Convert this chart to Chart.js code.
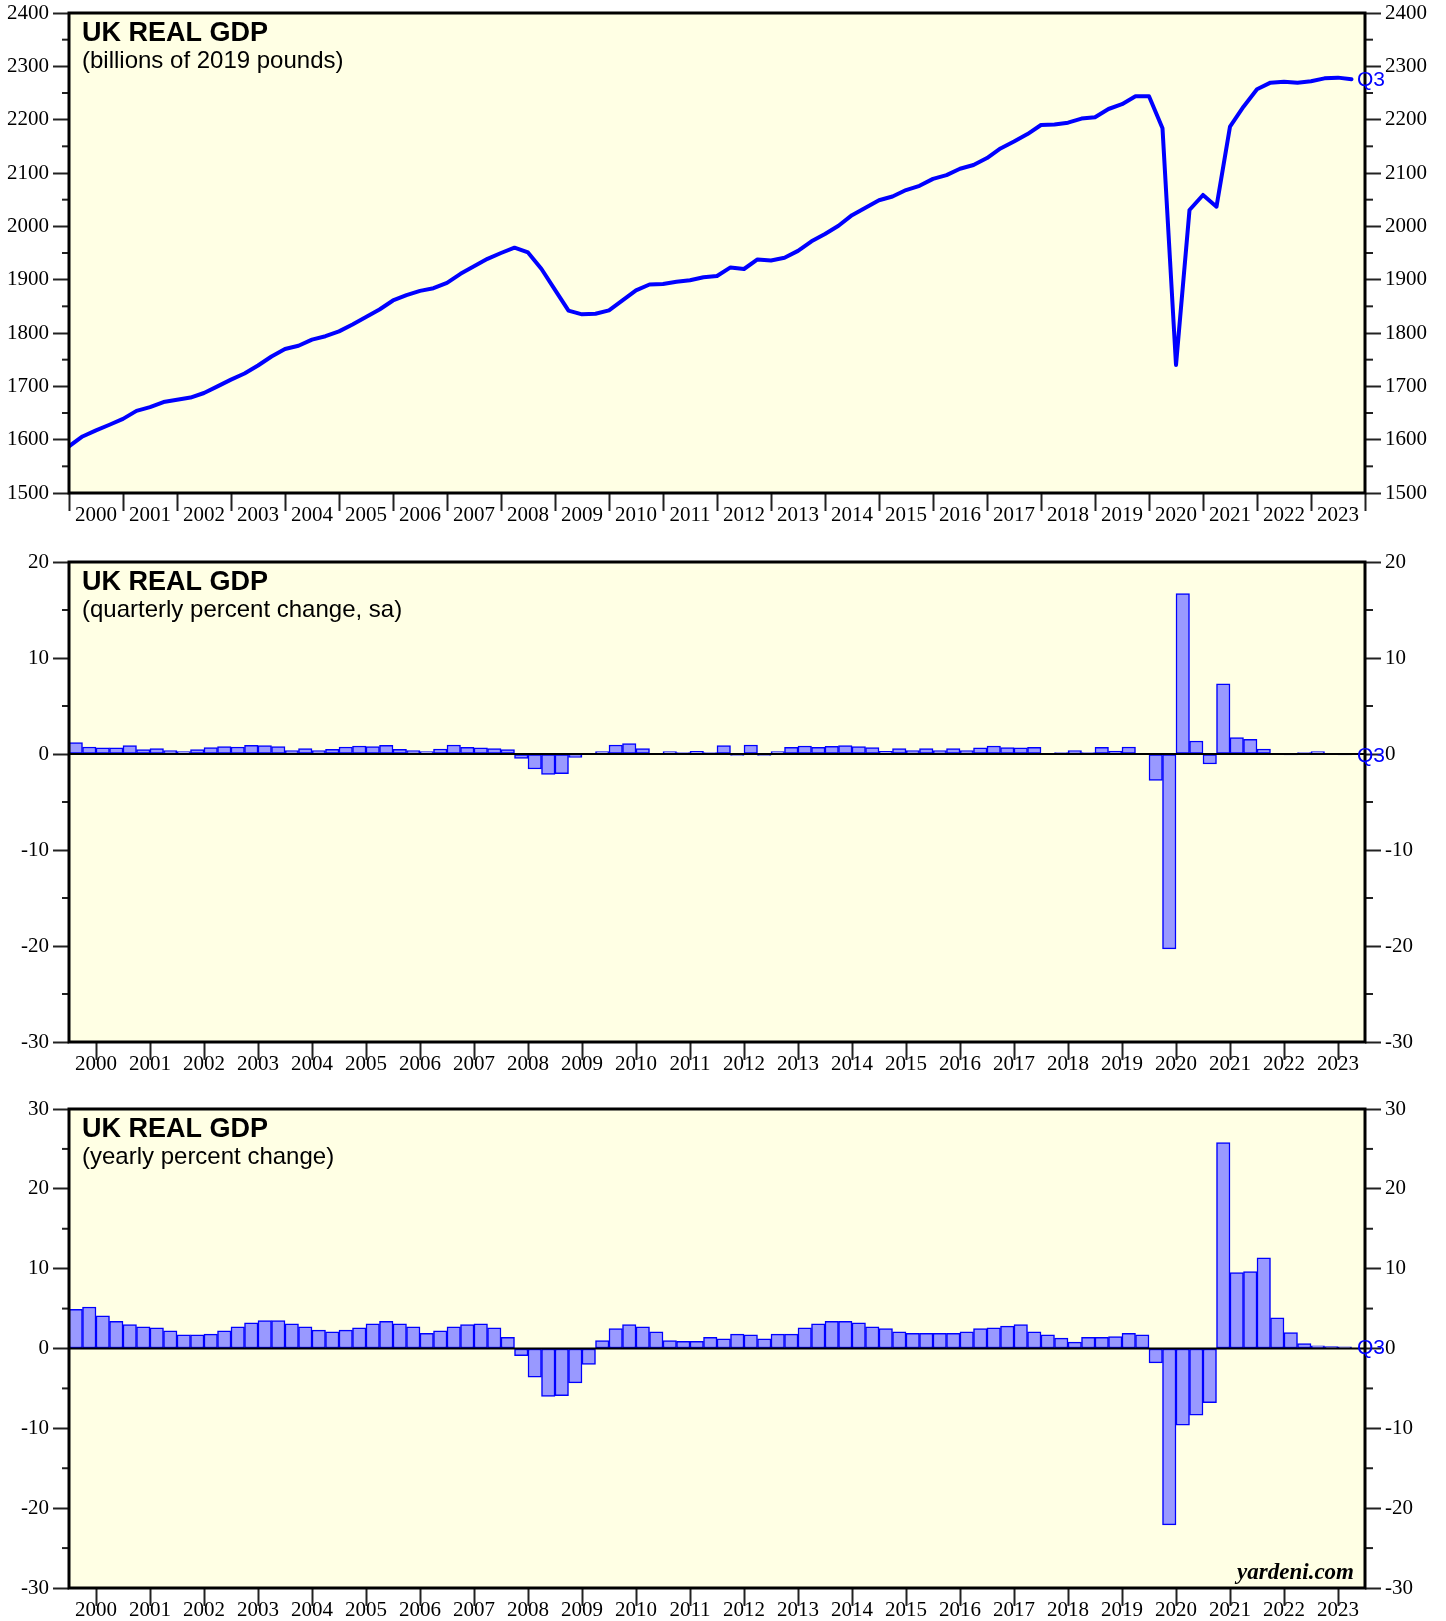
<!DOCTYPE html>
<html><head><meta charset="utf-8">
<script src="https://cdn.jsdelivr.net/npm/chart.js@4.4.0/dist/chart.umd.min.js"></script>
<style>
html,body{margin:0;padding:0;background:#fff;}
#wrap{position:relative;width:1446px;height:1621px;overflow:hidden;}
canvas{position:absolute;left:0;top:0;}
</style></head><body>
<div id="wrap">
<canvas id="c1" width="1446" height="1621"></canvas>
<canvas id="c2" width="1446" height="1621"></canvas>
<canvas id="c3" width="1446" height="1621"></canvas>
</div>
<script>
// ---------- DATA ----------
const years = [2000,2001,2002,2003,2004,2005,2006,2007,2008,2009,2010,2011,2012,2013,2014,2015,2016,2017,2018,2019,2020,2021,2022,2023];
const yearTickValues = [2000,2001,2002,2003,2004,2005,2006,2007,2008,2009,2010,2011,2012,2013,2014,2015,2016,2017,2018,2019,2020,2021,2022,2023,2024];
const lastQuarterLabel = "Q3";

// Real GDP level, billions of 2019 pounds, 1999Q4 .. 2023Q3
const gdpLevel = [1587.5,
 1606,1617.5,1628,1639, 1654,1661,1670.6,1675, 1679,1687.5,1700,1712.5, 1724,1739,1756,1770,
 1776,1787.5,1794,1803, 1816,1830,1844,1861, 1871,1879,1884,1894, 1911,1925,1939,1950,
 1960,1951,1920,1881, 1842,1835,1836,1842.5, 1861,1880,1891,1892, 1896,1899,1904.4,1906.9,
 1923,1920,1938,1936, 1941,1954,1972,1985.6, 2001,2021,2035,2049, 2056,2068,2076,2089,
 2096,2108,2115,2128, 2146,2159,2173,2190, 2191,2194.4,2202,2204.4, 2220,2229,2244,2244,
 2183.8,1740,2030.6,2058.8, 2036.9,2186.9,2224.4,2256.9, 2269.4,2271.3,2269.4,2271.9, 2277.5,2278.8,2275.6];

// Quarterly percent change, 2000Q1 .. 2023Q3
const gdpQoQ = [
 1.2,0.73,0.63,0.63, 0.87,0.45,0.56,0.35, 0.24,0.45,0.66,0.76, 0.73,0.9,0.87,0.76,
 0.35,0.56,0.35,0.49, 0.73,0.83,0.76,0.9, 0.49,0.35,0.24,0.52, 0.94,0.69,0.63,0.56,
 0.45,-0.45,-1.56,-2.12, -2.05,-0.35,0.03,0.24, 0.94,1.08,0.56,0.0, 0.24,0.14,0.28,0.14,
 0.87,-0.14,0.94,-0.14, 0.24,0.69,0.83,0.69, 0.8,0.87,0.76,0.66, 0.28,0.56,0.35,0.56,
 0.35,0.56,0.35,0.63, 0.83,0.66,0.63,0.69, 0.03,0.14,0.35,0.14, 0.69,0.31,0.73,0.0,
 -2.74,-20.3,16.7,1.35, -1.04,7.3,1.7,1.53, 0.52,0.07,-0.1,0.14, 0.24,0.07,-0.1];

// Yearly percent change, 2000Q1 .. 2023Q3
const gdpYoY = [
 4.9,5.2,4.1,3.4, 3.0,2.7,2.6,2.2, 1.7,1.7,1.8,2.2, 2.7,3.2,3.5,3.5,
 3.1,2.7,2.3,2.1, 2.3,2.6,3.1,3.4, 3.1,2.7,1.9,2.2, 2.7,3.0,3.1,2.6,
 1.4,-0.9,-3.6,-6.0, -5.9,-4.3,-2.0,1.0, 2.5,3.0,2.7,2.1, 1.0,0.9,0.9,1.4,
 1.2,1.8,1.7,1.2, 1.8,1.8,2.6,3.1, 3.4,3.4,3.2,2.7, 2.5,2.1,1.9,1.9,
 1.9,1.9,2.1,2.5, 2.6,2.8,3.0,2.1, 1.7,1.3,0.8,1.4, 1.4,1.5,1.9,1.7,
 -1.8,-22.1,-9.6,-8.35, -6.77,25.8,9.5,9.65, 11.36,3.84,2.0,0.63, 0.33,0.25,0.2];

const levelTicks = [1500,1600,1700,1800,1900,2000,2100,2200,2300,2400];
const qoqTicks = [-30,-20,-10,0,10,20];
const yoyTicks = [-30,-20,-10,0,10,20,30];

// quarter periods (year, quarter number) for 2000Q1..2023Q3, built from the years list
const quarterPeriods = [];
years.forEach(y => [1,2,3,4].forEach(q => quarterPeriods.push({year:y, q:q})));
quarterPeriods.length = gdpQoQ.length;

// ---------- STYLE ----------
const BG = 'rgb(255,255,228)';
const BLUE = '#0000ff';
const BARFILL = 'rgb(153,153,255)';
const TICKFONT = {family:'"Liberation Serif","Times New Roman",serif', size:21};
const SANS = '"Liberation Sans",Arial,Helvetica,sans-serif';

const panelPlugin = {
  id: 'panel',
  beforeDraw(chart) {
    const {ctx, chartArea:a} = chart;
    ctx.save();
    ctx.fillStyle = BG;
    ctx.fillRect(a.left, a.top, a.right - a.left, a.bottom - a.top);
    ctx.restore();
  },
  afterDatasetsDraw(chart, args, o) {
    if (!o.zero) return;
    const {ctx, chartArea:a} = chart;
    const y0 = chart.scales.y.getPixelForValue(0);
    ctx.save();
    ctx.strokeStyle = '#000'; ctx.lineWidth = 2;
    ctx.beginPath(); ctx.moveTo(a.left, y0); ctx.lineTo(a.right, y0); ctx.stroke();
    ctx.restore();
  },
  afterDraw(chart, args, o) {
    const {ctx, chartArea:a} = chart;
    ctx.save();
    // minor ticks
    ctx.strokeStyle = '#222'; ctx.lineWidth = 2;
    const ys = chart.scales.y;
    const ticks = o.ticks;
    for (let i = 0; i < ticks.length - 1; i++) {
      const mid = (ticks[i] + ticks[i+1]) / 2;
      const py = ys.getPixelForValue(mid);
      ctx.beginPath(); ctx.moveTo(a.left - 7, py); ctx.lineTo(a.left, py); ctx.stroke();
      ctx.beginPath(); ctx.moveTo(a.right, py); ctx.lineTo(a.right + 8, py); ctx.stroke();
    }
    // frame
    ctx.strokeStyle = '#000'; ctx.lineWidth = 3;
    ctx.strokeRect(a.left, a.top, a.right - a.left, a.bottom - a.top);
    // titles
    ctx.fillStyle = '#000';
    ctx.textAlign = 'left'; ctx.textBaseline = 'alphabetic';
    ctx.font = 'bold 27px ' + SANS;
    ctx.fillText(o.title, a.left + 13, a.top + 28);
    ctx.font = '24px ' + SANS;
    ctx.fillText(o.subtitle, a.left + 13, a.top + 55);
    // last-quarter marker
    const ds = chart.data.datasets[0].data;
    const last = ds[ds.length - 1].y;
    ctx.fillStyle = BLUE;
    ctx.font = '21px ' + SANS;
    ctx.textBaseline = 'middle';
    ctx.fillText(lastQuarterLabel, a.right - 8, ys.getPixelForValue(last) + 1);
    if (o.credit) {
      ctx.fillStyle = '#000';
      ctx.textAlign = 'right'; ctx.textBaseline = 'alphabetic';
      ctx.font = 'italic bold 23px "Liberation Serif","Times New Roman",serif';
      ctx.fillText('yardeni.com', a.right - 11, a.bottom - 9);
    }
    ctx.restore();
  }
};

function yAxis(pos, ticks, width) {
  return {
    type: 'linear', position: pos, display: true,
    min: ticks[0], max: ticks[ticks.length - 1],
    afterFit: s => { s.width = width; s.paddingTop = 0; s.paddingBottom = 0; },
    afterBuildTicks: s => { s.ticks = ticks.map(v => ({value: v})); },
    ticks: {font: TICKFONT, color: '#000', padding: 4, callback: v => String(v)},
    grid: {drawOnChartArea: false, drawTicks: true, tickLength: 16, tickWidth: 2, tickColor: '#222'},
    border: {display: false}
  };
}

function makeChart(id, type, data, ticks, padTop, padBottom, opts) {
  const dataset = type === 'line'
    ? {data, borderColor: BLUE, borderWidth: 4, pointRadius: 0, tension: 0, fill: false, borderJoinStyle: 'round', borderCapStyle: 'round', yAxisID: 'y'}
    : {data, backgroundColor: BARFILL, borderColor: BLUE, borderWidth: 1.5, barPercentage: 1, categoryPercentage: 1, borderSkipped: false, yAxisID: 'y'};
  return new Chart(document.getElementById(id), {
    type,
    data: {datasets: [dataset]},
    options: {
      responsive: false, animation: false, devicePixelRatio: 1,
      layout: {padding: {top: padTop, bottom: padBottom, left: 0, right: 0}},
      plugins: {legend: {display: false}, tooltip: {enabled: false}, title: {display: false},
        panel: Object.assign({ticks}, opts)},
      scales: {
        x: {
          type: 'linear', position: 'bottom', min: years[0], max: yearTickValues[yearTickValues.length - 1],
          offset: false,
          afterFit: s => { s.height = 30; s.paddingLeft = 0; s.paddingRight = 0; },
          afterBuildTicks: s => { s.ticks = yearTickValues.map(v => ({value: v})); },
          ticks: {autoSkip: false, maxRotation: 0, minRotation: 0, labelOffset: 27, padding: -8,
            font: TICKFONT, color: '#000',
            callback: v => years.includes(v) ? String(v) : ''},
          grid: {drawOnChartArea: false, drawTicks: true, tickLength: 18, tickWidth: 2, tickColor: '#222'},
          border: {display: false}
        },
        y: yAxis('left', ticks, 69),
        yR: yAxis('right', ticks, 81)
      }
    },
    plugins: [panelPlugin]
  });
}

// line points at quarter ends (first point = 1999Q4 at start of 2000)
const levelPoints = gdpLevel.map((v, i) => ({x: years[0] + i / 4, y: v}));
// bars centred in their quarter
const qoqPoints = quarterPeriods.map((p, i) => ({x: p.year + (p.q - 0.5) / 4, y: gdpQoQ[i]}));
const yoyPoints = quarterPeriods.map((p, i) => ({x: p.year + (p.q - 0.5) / 4, y: gdpYoY[i]}));

makeChart('c1', 'line', levelPoints, levelTicks, 13, 1621 - 493 - 30,
  {title: 'UK REAL GDP', subtitle: '(billions of 2019 pounds)'});
makeChart('c2', 'bar', qoqPoints, qoqTicks, 562, 1621 - 1042 - 30,
  {title: 'UK REAL GDP', subtitle: '(quarterly percent change, sa)', zero: true});
makeChart('c3', 'bar', yoyPoints, yoyTicks, 1109, 1621 - 1588 - 30,
  {title: 'UK REAL GDP', subtitle: '(yearly percent change)', zero: true, credit: true});
</script>
</body></html>
